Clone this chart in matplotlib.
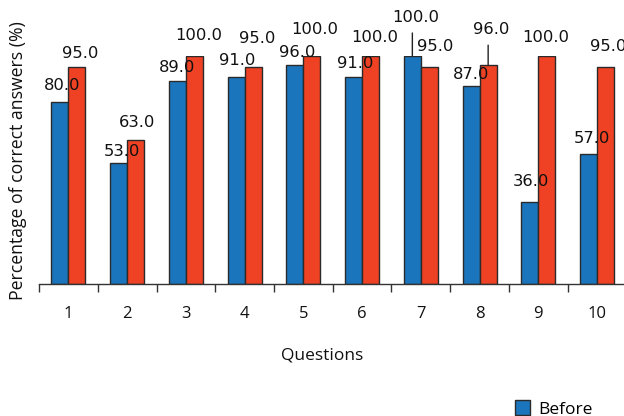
import matplotlib
matplotlib.use("Agg")
import matplotlib.pyplot as plt
from matplotlib.patches import Patch
import numpy as np

questions = ["1", "2", "3", "4", "5", "6", "7", "8", "9", "10"]
before = [80, 53, 89, 91, 96, 91, 100, 87, 36, 57]
after = [95, 63, 100, 95, 100, 100, 95, 96, 100, 95]

# label offsets (pixels: dx right, dy up) from bar tops
before_off = [(2, 15.6), (3.4, 12), (0, 14), (1, 16.5), (2, 13), (2, 13.5), (3, 38), (0, 11.6), (1, 20), (3, 16)]
after_off = [(3, 14.4), (1.4, 18), (4.6, 21), (4, 29), (3, 26), (4, 18), (6, 21), (3, 36), (-1, 18), (2.4, 21)]
# leader lines (pixels)
before_lines = {6: 23}
after_lines = {7: 20}

BLUE = "#1a75bc"
RED = "#ef4123"
EDGE = "#2a2a2a"
LABEL_FONT = ["Open Sans", "DejaVu Sans"]

W, H = 624, 416
fig = plt.figure(figsize=(W / 100, H / 100), dpi=100)
ax = fig.add_axes([39 / W, (H - 284) / H, 587.5 / W, 228 / H])

x = np.arange(len(questions))
bw = 0.29
ax.bar(x - bw / 2, before, bw, color=BLUE, edgecolor=EDGE, linewidth=1, zorder=2)
ax.bar(x + bw / 2, after, bw, color=RED, edgecolor=EDGE, linewidth=1, zorder=2)

px = 0.72  # points per pixel
for vals, offs, lines, sign in ((before, before_off, before_lines, -1), (after, after_off, after_lines, 1)):
    for i, v in enumerate(vals):
        xc = x[i] + sign * bw / 2
        dx, dy = offs[i]
        ax.annotate(f"{v:.1f}", xy=(xc, v), xytext=(dx * px, dy * px), textcoords="offset points",
                    ha="center", va="center", fontsize=11.8, family="DejaVu Sans",
                    color="#111111", zorder=4, annotation_clip=False)
        if i in lines:
            ax.annotate("", xy=(xc, v), xytext=(0, lines[i] * px), textcoords="offset points",
                        arrowprops=dict(arrowstyle="-", color="#222222", lw=1, shrinkA=0, shrinkB=0),
                        annotation_clip=False, zorder=3)

ax.set_xlim(-0.5, len(questions) - 0.5)
ax.set_ylim(0, 100)
for s in ("top", "right", "left"):
    ax.spines[s].set_visible(False)
ax.spines["bottom"].set_color("#333333")
ax.spines["bottom"].set_linewidth(1)
ax.set_yticks([])
ax.set_xticks(np.arange(-0.5, len(questions), 1.0))
ax.set_xticklabels([])
ax.set_xticks(x, minor=True)
ax.set_xticklabels(questions, minor=True, fontsize=12, family=LABEL_FONT, color="#111111")
ax.tick_params(axis="x", which="major", direction="out", length=7.5 * px, width=1, color="#333333")
ax.tick_params(axis="x", which="minor", length=0, pad=22 * px)

fig.text(322 / W, 1 - 355 / H, "Questions", ha="center", va="center", fontsize=12.5,
         family=LABEL_FONT, color="#111111")
fig.text(18 / W, 1 - 161 / H, "Percentage of correct answers (%)", ha="center", va="center",
         rotation=90, fontsize=12.7, family=LABEL_FONT, color="#111111")

handles = [Patch(facecolor=BLUE, edgecolor=EDGE, label="Before"),
           Patch(facecolor=RED, edgecolor=EDGE, label="After")]
fig.legend(handles=handles, loc="upper left", bbox_to_anchor=(508 / W, 1 - 393 / H), frameon=False,
           ncol=1, handlelength=0.85, handleheight=1.0, handletextpad=0.5, borderaxespad=0,
           prop={"family": LABEL_FONT, "size": 12.5})

fig.savefig("out.png", dpi=100)
